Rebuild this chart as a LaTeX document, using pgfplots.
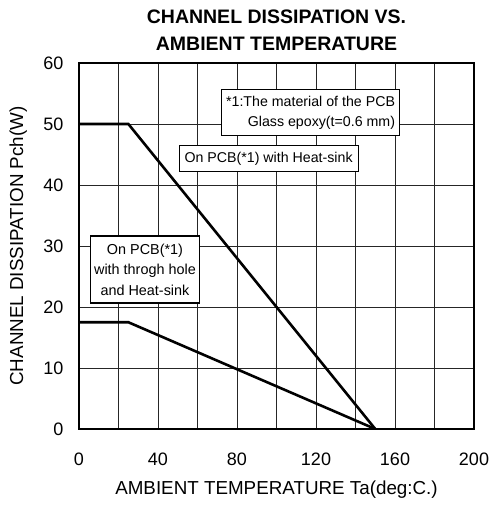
\documentclass[border=0pt]{standalone}
\usepackage{fontspec}
\setmainfont{Liberation Sans}
\usepackage{pgfplots}
\pgfplotsset{compat=1.18}
\begin{document}
\begin{tikzpicture}
\useasboundingbox (-79pt,-76pt) rectangle (413pt,429pt);
\begin{axis}[
  at={(0,0)}, anchor=south west,
  scale only axis, width=395pt, height=366pt,
  xmin=0, xmax=200, ymin=0, ymax=60,
  xtick={0,40,...,200}, minor xtick={20,60,...,180},
  ytick={0,10,...,60},
  grid=both,
  major grid style={black!85, line width=0.7pt},
  minor grid style={black!85, line width=0.7pt},
  major tick length=0pt, minor tick length=0pt,
  axis line style={black, line width=1.3pt},
  /pgf/number format/assume math mode=true,
  tick label style={font=\fontsize{18}{20}\selectfont},
  xticklabel style={yshift=-20pt},
  yticklabel style={xshift=-12pt},
  xlabel={AMBIENT TEMPERATURE Ta(deg:C.)},
  ylabel={CHANNEL DISSIPATION Pch(W)},
  label style={font=\fontsize{18.8}{20}\selectfont},
  xlabel style={at={(axis description cs:0.5,-0.1667)}, anchor=center},
  ylabel style={at={(axis description cs:-0.154,0.5)}, anchor=center},
  title={CHANNEL DISSIPATION VS.\\AMBIENT TEMPERATURE},
  title style={font=\bfseries\fontsize{19.5}{27}\selectfont, align=center, at={(axis description cs:0.5,1)}, anchor=south, yshift=3pt},
]
\addplot[black, line width=2.6pt] coordinates {(0,50) (25,50) (150,0)};
\addplot[black, line width=2.6pt] coordinates {(0,17.5) (25,17.5) (150,0)};
\node[draw=black, line width=1.2pt, fill=white, align=right, minimum width=178pt, minimum height=46pt, inner sep=3pt, font=\fontsize{14.2}{20}\selectfont] at (axis cs:117.25,51.9) {*1:The material of the PCB\\Glass epoxy(t=0.6 mm)};
\node[draw=black, line width=1.2pt, fill=white, minimum width=179pt, minimum height=26pt, inner sep=3pt, font=\fontsize{14.2}{19}\selectfont] at (axis cs:96,44.3) {On PCB(*1) with Heat-sink};
\node[draw=black, line width=1.2pt, fill=white, align=center, minimum width=109pt, minimum height=67pt, inner sep=3pt, font=\fontsize{14.4}{20.5}\selectfont] at (axis cs:33.4,26.15) {On PCB(*1)\\with throgh hole\\and Heat-sink};
\end{axis}
\end{tikzpicture}
\end{document}
